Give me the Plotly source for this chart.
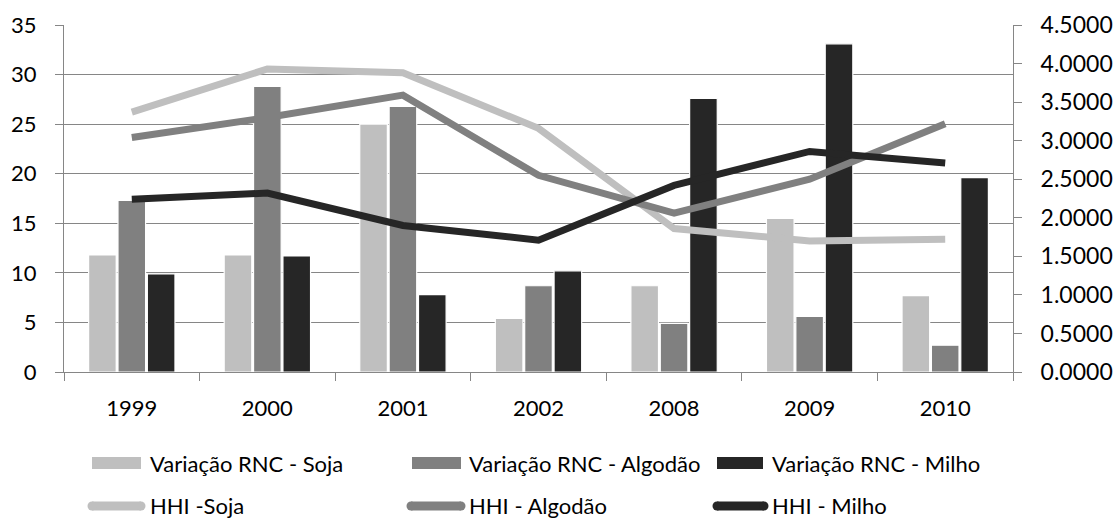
import plotly.graph_objects as go

# Data
categories = ["1999", "2000", "2001", "2002", "2008", "2009", "2010"]
rnc_soja = [11.8, 11.8, 25.0, 5.4, 8.7, 15.5, 7.7]
rnc_algodao = [17.3, 28.8, 26.8, 8.7, 4.9, 5.6, 2.7]
rnc_milho = [9.9, 11.7, 7.8, 10.2, 27.6, 33.1, 19.6]
hhi_soja = [3.37, 3.93, 3.88, 3.16, 1.86, 1.70, 1.72]
hhi_algodao = [3.04, 3.30, 3.59, 2.55, 2.06, 2.50, 3.22]
hhi_milho = [2.24, 2.32, 1.90, 1.71, 2.42, 2.86, 2.71]

bar_names = ["Variação RNC - Soja", "Variação RNC - Algodão", "Variação RNC - Milho"]
line_names = ["HHI -Soja", "HHI - Algodão", "HHI - Milho"]

LIGHT, MID, DARK = "#BFBFBF", "#808080", "#262626"
GRID = "#868686"
FONT = "Lato"
FS = 22

W, H = 1115, 520
L, R, T, B = 64, 102, 25, 148
PW, PH = W - L - R, H - T - B

fig = go.Figure()

for name, vals, col in zip(bar_names, [rnc_soja, rnc_algodao, rnc_milho], [LIGHT, MID, DARK]):
    fig.add_trace(go.Bar(
        x=categories, y=vals, name=name, marker_color=col,
        marker_line=dict(color="white", width=1.2), showlegend=False,
    ))

for name, vals, col in zip(line_names, [hhi_soja, hhi_algodao, hhi_milho], [LIGHT, MID, DARK]):
    fig.add_trace(go.Scatter(
        x=categories, y=vals, name=name, mode="lines", yaxis="y2",
        line=dict(color=col, width=7), showlegend=False,
    ))


# Legend keys drawn in pixel space, converted to paper coordinates
def px(x):
    return (x - L) / PW


def py(y):
    return (H - B - y) / PH


shapes = []
annotations = []

row1 = [(92, 141, 148), (412, 461, 467), (717, 763, 770)]
for (x0, x1, tx), col, name in zip(row1, [LIGHT, MID, DARK], bar_names):
    shapes.append(dict(type="rect", xref="paper", yref="paper",
                       x0=px(x0), x1=px(x1), y0=py(469), y1=py(457),
                       fillcolor=col, line=dict(width=0), layer="above"))
    annotations.append(dict(xref="paper", yref="paper", x=px(tx), y=py(463),
                            text=name, showarrow=False, xanchor="left", yanchor="middle",
                            font=dict(family=FONT, size=FS, color="black")))

ROW2_Y = 505
row2 = [(92, 141, 148), (411, 461, 467), (717, 764, 770)]
for (x0, x1, tx), col, name in zip(row2, [LIGHT, MID, DARK], line_names):
    shapes.append(dict(type="line", xref="paper", yref="paper",
                       x0=px(x0), x1=px(x1), y0=py(ROW2_Y + 1), y1=py(ROW2_Y + 1),
                       line=dict(color=col, width=9), layer="above"))
    for cx in (x0, x1):
        shapes.append(dict(type="circle", xref="paper", yref="paper",
                           x0=px(cx - 4.5), x1=px(cx + 4.5),
                           y0=py(ROW2_Y + 5.5), y1=py(ROW2_Y - 3.5),
                           fillcolor=col, line=dict(width=0), layer="above"))
    annotations.append(dict(xref="paper", yref="paper", x=px(tx), y=py(ROW2_Y),
                            text=name, showarrow=False, xanchor="left", yanchor="middle",
                            font=dict(family=FONT, size=FS, color="black")))

fig.update_layout(
    width=W, height=H,
    margin=dict(l=L, r=R, t=T, b=B, pad=0, autoexpand=False),
    paper_bgcolor="white", plot_bgcolor="white",
    barmode="group", bargap=0.35, bargroupgap=0.06,
    font=dict(family=FONT, size=FS, color="black"),
    showlegend=False,
    xaxis=dict(
        type="category", showline=True, linecolor=GRID, linewidth=1,
        ticks="outside", tickson="boundaries", ticklen=8, tickcolor=GRID,
        showgrid=False, ticklabelstandoff=17, automargin=False,
    ),
    yaxis=dict(
        range=[0, 35], dtick=5, showline=True, linecolor=GRID, linewidth=1,
        ticks="outside", ticklen=8, tickcolor=GRID,
        showgrid=True, gridcolor=GRID, gridwidth=1, zeroline=False,
        ticklabelstandoff=14, automargin=False,
    ),
    yaxis2=dict(
        range=[0, 4.5], dtick=0.5, tickformat=".4f", overlaying="y", side="right",
        showline=True, linecolor=GRID, linewidth=1,
        ticks="outside", ticklen=8, tickcolor=GRID, showgrid=False, zeroline=False,
        ticklabelstandoff=14, tickfont=dict(size=23), automargin=False,
    ),
    shapes=shapes,
    annotations=annotations,
)

fig.write_html("out.html")
